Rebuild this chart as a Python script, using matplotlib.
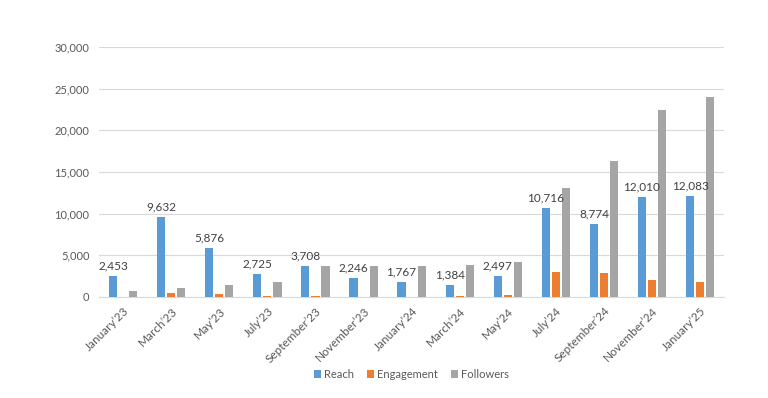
import numpy as np
import matplotlib.pyplot as plt

plt.rcParams['font.family'] = ['Lato', 'DejaVu Sans']

months = ["January\u201923", "March\u201923", "May\u201923", "July\u201923", "September\u201923",
          "November\u201923", "January\u201924", "March\u201924", "May\u201924", "July\u201924",
          "September\u201924", "November\u201924", "January\u201925"]
reach = [2453, 9632, 5876, 2725, 3708, 2246, 1767, 1384, 2497, 10716, 8774, 12010, 12083]
engagement = [0, 500, 350, 100, 100, 0, 0, 80, 200, 3000, 2900, 2000, 1800]
followers = [720, 1100, 1450, 1800, 3700, 3700, 3700, 3850, 4200, 13100, 16300, 22400, 24000]

fig = plt.figure(figsize=(7.68, 3.98), dpi=100)
ax = fig.add_axes([0.129, 0.254, 0.814, 0.628])

x = np.arange(len(months))
w = 0.17
step = 0.21
ax.bar(x - step, reach, w, color='#5B9BD5', label='Reach', zorder=3)
ax.bar(x, engagement, w, color='#ED7D31', label='Engagement', zorder=3)
ax.bar(x + step, followers, w, color='#A5A5A5', label='Followers', zorder=3)

for xi, v in zip(x, reach):
    ax.text(xi - step, v + 550, f"{v:,}", ha='center', va='bottom', fontsize=8.5, color='#404040')

ax.set_ylim(0, 30000)
ax.set_xlim(-0.5, len(months) - 0.5)
ax.set_yticks(range(0, 30001, 5000))
ax.set_yticklabels([f"{v:,}" for v in range(0, 30001, 5000)])
ax.set_xticks(x)
ax.set_xticklabels(months, rotation=45, ha='right', rotation_mode='anchor', fontsize=8.5)
ax.tick_params(axis='y', length=0, labelsize=8, colors='#595959')
ax.tick_params(axis='x', length=0, colors='#595959', pad=6)
ax.tick_params(axis='y', pad=7)
ax.grid(axis='y', color='#D9D9D9', linewidth=0.8, zorder=0)
for s in ['top', 'right', 'left']:
    ax.spines[s].set_visible(False)
ax.spines['bottom'].set_color('#D9D9D9')

ax.legend(loc='center', bbox_to_anchor=(0.5, -0.31), ncol=3, frameon=False,
          fontsize=8, handlelength=0.6, handleheight=0.6, handletextpad=0.3,
          columnspacing=1.2, labelcolor='#595959')

fig.savefig('out.png', dpi=100)
